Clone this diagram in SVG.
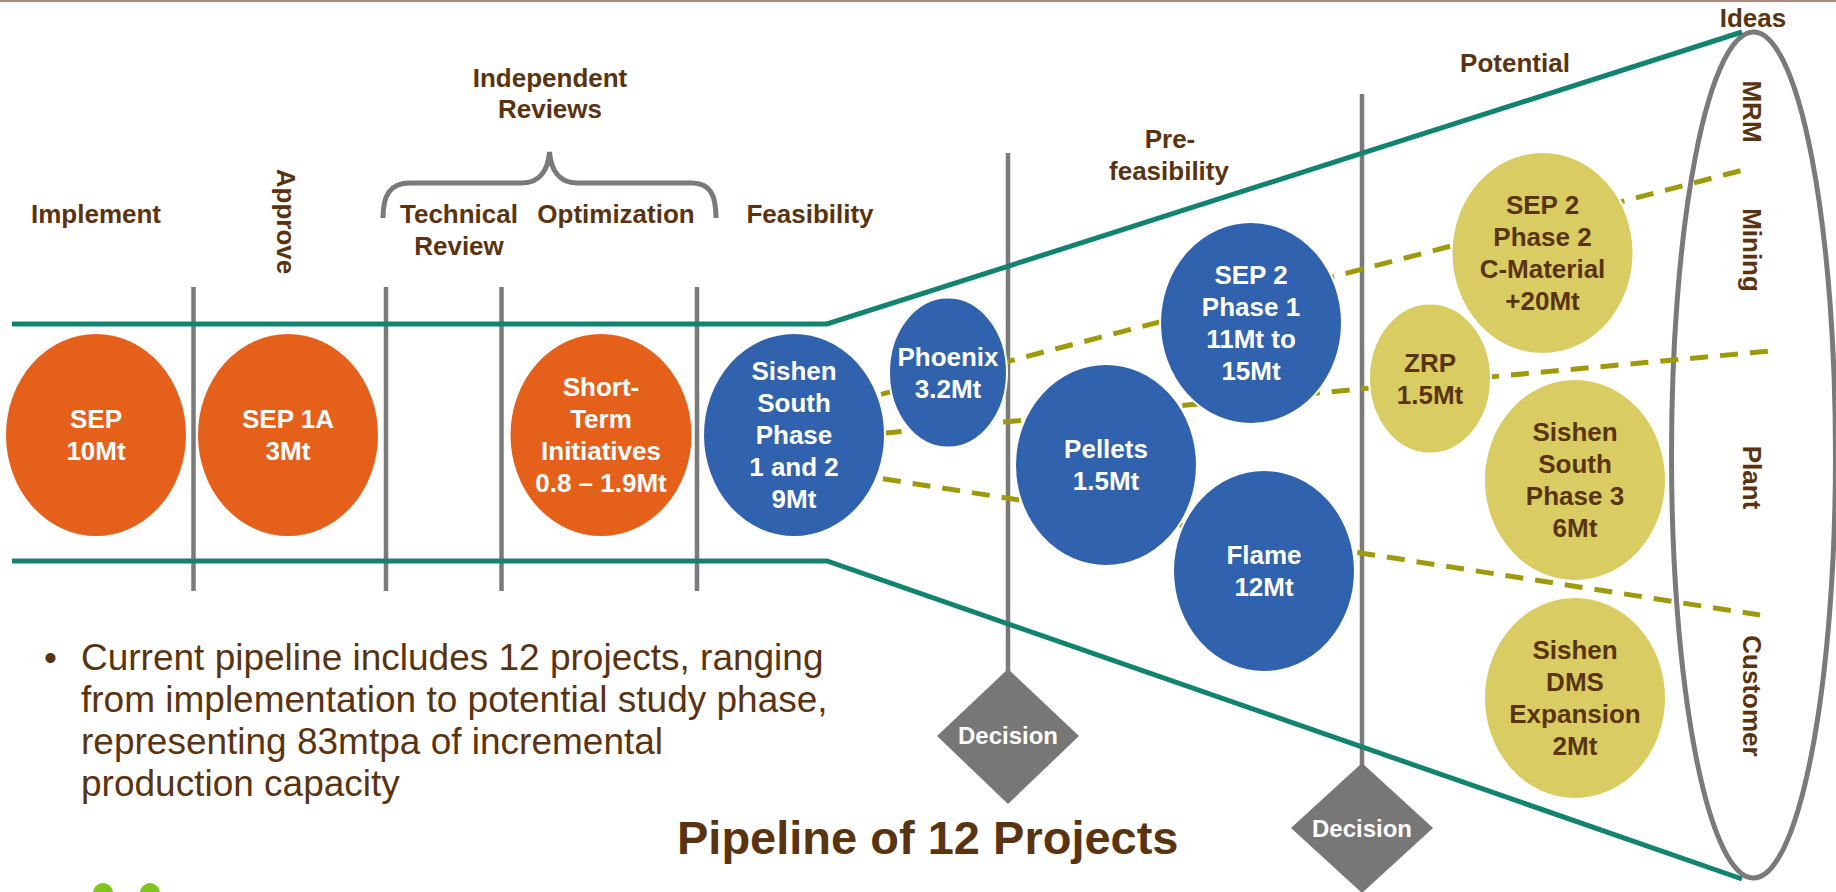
<svg xmlns="http://www.w3.org/2000/svg" width="1836" height="892" viewBox="0 0 1836 892">
<style>
  .lbl{font-family:"Liberation Sans",Arial,sans-serif;font-weight:bold;font-size:26px;fill:#5a3411;text-anchor:middle}
  .nw{font-family:"Liberation Sans",Arial,sans-serif;font-weight:bold;font-size:26px;fill:#ffffff;text-anchor:middle}
  .nb{font-family:"Liberation Sans",Arial,sans-serif;font-weight:bold;font-size:26px;fill:#5a3411;text-anchor:middle}
  .dec{font-family:"Liberation Sans",Arial,sans-serif;font-weight:bold;font-size:24px;fill:#ffffff;text-anchor:middle}
  .body{font-family:"Liberation Sans",Arial,sans-serif;font-size:37px;fill:#5a3411}
  .title{font-family:"Liberation Sans",Arial,sans-serif;font-weight:bold;font-size:47px;fill:#5a3411}
  .org{fill:#e5601a;stroke:#ffffff;stroke-width:2}
  .blu{fill:#3162ae;stroke:#ffffff;stroke-width:2}
  .yel{fill:#d9cc62;stroke:#ffffff;stroke-width:2}
  .vline{stroke:#7a7a7a;stroke-width:4.5;fill:none}
  .teal{stroke:#12836f;stroke-width:5;fill:none;stroke-linejoin:miter}
  .dash{stroke:#9f9a0c;stroke-width:5;fill:none;stroke-dasharray:18 12}
  .diam{fill:#777777}
</style>
<rect x="0" y="0" width="1836" height="892" fill="#ffffff"/>
<line x1="0" y1="1" x2="1836" y2="1" stroke="#a88c80" stroke-width="2"/>
<circle cx="103" cy="893" r="10" fill="#80c41c"/>
<circle cx="150" cy="893" r="10" fill="#80c41c"/>

<g id="labels">
  <text class="lbl" x="96" y="223">Implement</text>
  <text class="lbl" transform="translate(277,221.5) rotate(90)" x="0" y="0">Approve</text>
  <text class="lbl" x="550" y="87">Independent</text>
  <text class="lbl" x="550" y="118">Reviews</text>
  <path d="M383,218 C383,195 390,183 410,183 L522,183 C540,183 548,170 549.5,152 C551,170 559,183 577,183 L692,183 C710,183 716,195 716,218" fill="none" stroke="#7a7a7a" stroke-width="5"/>
  <text class="lbl" x="459" y="223">Technical</text>
  <text class="lbl" x="459" y="255">Review</text>
  <text class="lbl" x="616" y="223">Optimization</text>
  <text class="lbl" x="810" y="223">Feasibility</text>
  <text class="lbl" x="1170" y="148">Pre-</text>
  <text class="lbl" x="1169" y="180">feasibility</text>
  <text class="lbl" x="1515" y="72">Potential</text>
  <text class="lbl" x="1753" y="27">Ideas</text>
  <text class="lbl" transform="translate(1743,111.5) rotate(90)" x="0" y="0">MRM</text>
  <text class="lbl" transform="translate(1743,250) rotate(90)" x="0" y="0">Mining</text>
  <text class="lbl" transform="translate(1743,477.5) rotate(90)" x="0" y="0">Plant</text>
  <text class="lbl" transform="translate(1743,696) rotate(90)" x="0" y="0">Customer</text>
</g>

<g id="bullet">
  <text class="body" x="44" y="670">•</text>
  <text class="body" x="81" y="670">Current pipeline includes 12 projects, ranging</text>
  <text class="body" x="81" y="712">from implementation to potential study phase,</text>
  <text class="body" x="81" y="754">representing 83mtpa of incremental</text>
  <text class="body" x="81" y="796">production capacity</text>
</g>
<text id="title" class="title" x="677" y="854">Pipeline of 12 Projects</text>

<g id="connectors">
  <line class="vline" x1="193.5" y1="287" x2="193.5" y2="591"/>
  <line class="vline" x1="386" y1="287" x2="386" y2="591"/>
  <line class="vline" x1="501.5" y1="287" x2="501.5" y2="591"/>
  <line class="vline" x1="697" y1="287" x2="697" y2="591"/>
  <line class="vline" x1="1008" y1="153" x2="1008" y2="672"/>
  <line class="vline" x1="1362" y1="94" x2="1362" y2="766"/>
  <ellipse cx="1753.5" cy="455" rx="82" ry="423" fill="none" stroke="#7a7a7a" stroke-width="5"/>
  <polyline class="teal" points="12,324 827,324 1742,32"/>
  <polyline class="teal" points="12,561 827,561 1742,879"/>
  <line class="dash" x1="794" y1="417" x2="1751" y2="168"/>
  <line class="dash" x1="794" y1="441.5" x2="1770" y2="351"/>
  <line class="dash" x1="794" y1="465" x2="1760" y2="615"/>
</g>

<g id="decision1">
  <polygon class="diam" points="1008,669 1079,736 1008,804 937,736"/>
  <text class="dec" x="1008" y="744">Decision</text>
</g>
<g id="decision2">
  <polygon class="diam" points="1362,763 1433,828 1362,893 1291,828"/>
  <text class="dec" x="1362" y="837">Decision</text>
</g>

<g id="sep">
  <ellipse class="org" cx="96" cy="435" rx="91" ry="102"/>
  <text class="nw" x="96" y="428.3">SEP</text>
  <text class="nw" x="96" y="460.3">10Mt</text>
</g>
<g id="sep1a">
  <ellipse class="org" cx="288" cy="435" rx="91" ry="102"/>
  <text class="nw" x="288" y="428.3">SEP 1A</text>
  <text class="nw" x="288" y="460.3">3Mt</text>
</g>
<g id="shortterm">
  <ellipse class="org" cx="601" cy="435" rx="91.5" ry="102"/>
  <text class="nw" x="601" y="396.3">Short-</text>
  <text class="nw" x="601" y="428.3">Term</text>
  <text class="nw" x="601" y="460.3">Initiatives</text>
  <text class="nw" x="601" y="492.3">0.8 – 1.9Mt</text>
</g>
<g id="sishensouth">
  <ellipse class="blu" cx="794" cy="435" rx="91" ry="102"/>
  <text class="nw" x="794" y="380.3">Sishen</text>
  <text class="nw" x="794" y="412.3">South</text>
  <text class="nw" x="794" y="444.3">Phase</text>
  <text class="nw" x="794" y="476.3">1 and 2</text>
  <text class="nw" x="794" y="508.3">9Mt</text>
</g>
<g id="phoenix">
  <ellipse class="blu" cx="948" cy="372.5" rx="59" ry="75"/>
  <text class="nw" x="948" y="365.8">Phoenix</text>
  <text class="nw" x="948" y="397.8">3.2Mt</text>
</g>
<g id="sep2p1">
  <ellipse class="blu" cx="1251" cy="323" rx="91" ry="101"/>
  <text class="nw" x="1251" y="284.3">SEP 2</text>
  <text class="nw" x="1251" y="316.3">Phase 1</text>
  <text class="nw" x="1251" y="348.3">11Mt to</text>
  <text class="nw" x="1251" y="380.3">15Mt</text>
</g>
<g id="pellets">
  <ellipse class="blu" cx="1106" cy="465" rx="91" ry="101"/>
  <text class="nw" x="1106" y="458.3">Pellets</text>
  <text class="nw" x="1106" y="490.3">1.5Mt</text>
</g>
<g id="flame">
  <ellipse class="blu" cx="1264" cy="571" rx="91" ry="101"/>
  <text class="nw" x="1264" y="564.3">Flame</text>
  <text class="nw" x="1264" y="596.3">12Mt</text>
</g>
<g id="sep2p2">
  <ellipse class="yel" cx="1542.5" cy="253" rx="91" ry="101"/>
  <text class="nb" x="1542.5" y="214.3">SEP 2</text>
  <text class="nb" x="1542.5" y="246.3">Phase 2</text>
  <text class="nb" x="1542.5" y="278.3">C-Material</text>
  <text class="nb" x="1542.5" y="310.3">+20Mt</text>
</g>
<g id="zrp">
  <ellipse class="yel" cx="1430" cy="378.5" rx="61" ry="75"/>
  <text class="nb" x="1430" y="371.8">ZRP</text>
  <text class="nb" x="1430" y="403.8">1.5Mt</text>
</g>
<g id="sishensouth3">
  <ellipse class="yel" cx="1575" cy="480" rx="91" ry="101"/>
  <text class="nb" x="1575" y="441.3">Sishen</text>
  <text class="nb" x="1575" y="473.3">South</text>
  <text class="nb" x="1575" y="505.3">Phase 3</text>
  <text class="nb" x="1575" y="537.3">6Mt</text>
</g>
<g id="sishendms">
  <ellipse class="yel" cx="1575" cy="698" rx="91" ry="101"/>
  <text class="nb" x="1575" y="659.3">Sishen</text>
  <text class="nb" x="1575" y="691.3">DMS</text>
  <text class="nb" x="1575" y="723.3">Expansion</text>
  <text class="nb" x="1575" y="755.3">2Mt</text>
</g>
</svg>
